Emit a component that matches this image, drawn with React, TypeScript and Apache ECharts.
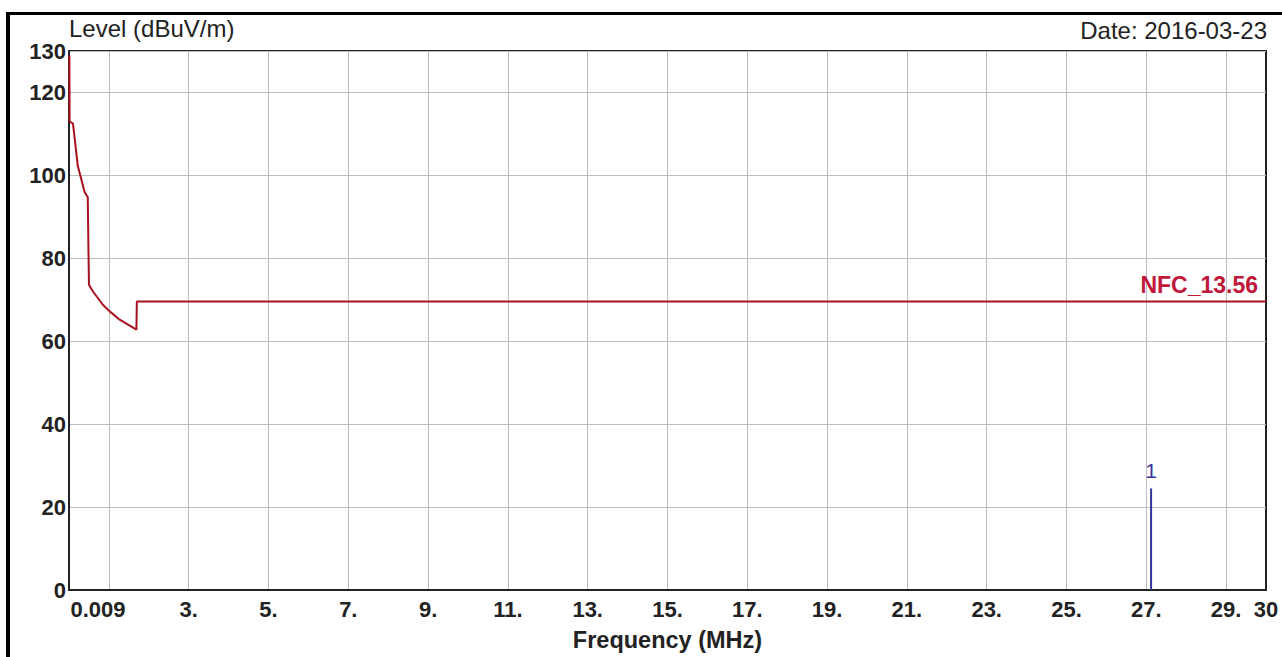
import React, { useEffect, useRef } from 'react';
import * as echarts from 'echarts';

// ---- data ----
const LIMIT_FREQ_MHZ = [0.009, 0.015, 0.1, 0.22, 0.39, 0.47, 0.5, 0.6, 0.85, 1.02, 1.27, 1.69, 1.7, 30];
const LIMIT_LEVEL_DBUV = [129, 113, 112.5, 102.3, 96, 94.7, 73.6, 72.0, 68.8, 67.2, 65.2, 62.8, 69.6, 69.6];
const LIMIT_NAME = 'NFC_13.56';

const MARKER_FREQ_MHZ = [27.12];
const MARKER_LEVEL_DBUV = [24.5];
const MARKER_LABELS = ['1'];

const X_MIN = 0;
const X_MAX = 30;
const X_STEP = 1;
const X_FIRST_LABEL = '0.009';
const X_LAST_LABEL = '30';
const Y_MIN = 0;
const Y_MAX = 130;
const Y_STEP = 20;

const Y_TITLE = 'Level (dBuV/m)';
const X_TITLE = 'Frequency (MHz)';
const DATE_TEXT = 'Date: 2016-03-23';

const FONT = '"Liberation Sans", Arial, sans-serif';
const TEXT_COLOR = '#222222';
const GRID_COLOR = '#bdbdbd';
const LIMIT_COLOR = '#a8101e';
const LIMIT_LABEL_COLOR = '#c0183a';
const MARKER_COLOR = '#34349c';

export default function App() {
  const ref = useRef<HTMLDivElement>(null);

  useEffect(() => {
    if (!ref.current) return;
    const chart = echarts.init(ref.current, undefined, { renderer: 'svg' });

    const limitData = LIMIT_FREQ_MHZ.map((f, i) => [f, LIMIT_LEVEL_DBUV[i]]);
    const lastIdx = LIMIT_FREQ_MHZ.length - 1;

    const markerSeries = MARKER_FREQ_MHZ.map((f, i) => ({
      type: 'line',
      data: [
        [f, Y_MIN],
        [f, MARKER_LEVEL_DBUV[i]],
      ],
      showSymbol: false,
      lineStyle: { color: MARKER_COLOR, width: 2 },
      silent: true,
      z: 4,
      markPoint: {
        silent: true,
        symbol: 'circle',
        symbolSize: 0,
        data: [
          {
            coord: [f, MARKER_LEVEL_DBUV[i]],
            label: {
              show: true,
              position: 'top',
              distance: 7,
              formatter: MARKER_LABELS[i],
              color: MARKER_COLOR,
              fontFamily: FONT,
              fontSize: 21,
            },
          },
        ],
      },
    }));

    const option: any = {
      animation: false,
      backgroundColor: '#ffffff',
      title: {
        text: DATE_TEXT,
        right: 15,
        top: 18,
        padding: 0,
        textStyle: { fontFamily: FONT, fontSize: 24, fontWeight: 'normal', color: TEXT_COLOR },
      },
      graphic: [
        { type: 'rect', left: 6, top: 12, shape: { width: 1276, height: 3 }, style: { fill: '#000' } },
        { type: 'rect', left: 6, top: 12, shape: { width: 4, height: 645 }, style: { fill: '#000' } },
      ],
      grid: {
        left: 69,
        top: 51,
        right: 16,
        bottom: 63,
        show: true,
        borderColor: '#222',
        borderWidth: 2,
        backgroundColor: 'transparent',
        containLabel: false,
      },
      xAxis: {
        type: 'value',
        min: X_MIN,
        max: X_MAX,
        interval: X_STEP,
        name: X_TITLE,
        nameLocation: 'middle',
        nameGap: 38,
        nameTextStyle: { fontFamily: FONT, fontSize: 23.5, fontWeight: 'bold', color: TEXT_COLOR },
        axisLine: { show: true, lineStyle: { color: '#222', width: 2 } },
        axisTick: { show: false },
        splitLine: {
          show: true,
          lineStyle: { color: ['rgba(0,0,0,0)', GRID_COLOR], width: 1 },
        },
        axisLabel: {
          show: true,
          margin: 8,
          showMinLabel: true,
          showMaxLabel: true,
          fontFamily: FONT,
          fontSize: 22,
          fontWeight: 'bold',
          color: TEXT_COLOR,
          formatter: (v: number) => {
            if (v === X_MIN) return '{first|' + X_FIRST_LABEL + '}';
            if (v === X_MAX) return X_LAST_LABEL;
            if (v >= 3 && v % 2 === 1) return v + '.';
            return '';
          },
          rich: {
            first: {
              fontFamily: FONT,
              fontSize: 22,
              fontWeight: 'bold',
              color: TEXT_COLOR,
              padding: [0, 0, 0, 58],
            },
          },
        },
      },
      yAxis: {
        type: 'value',
        min: Y_MIN,
        max: Y_MAX,
        interval: Y_STEP,
        name: Y_TITLE,
        nameLocation: 'end',
        nameGap: 3,
        nameTextStyle: {
          fontFamily: FONT,
          fontSize: 24,
          fontWeight: 'normal',
          color: TEXT_COLOR,
          align: 'left',
          verticalAlign: 'bottom',
        },
        axisLine: { show: true, lineStyle: { color: '#222', width: 2 } },
        axisTick: { show: false },
        splitLine: { show: true, lineStyle: { color: GRID_COLOR, width: 1 } },
        axisLabel: {
          show: true,
          margin: 3,
          showMinLabel: true,
          showMaxLabel: true,
          fontFamily: FONT,
          fontSize: 22,
          fontWeight: 'bold',
          color: TEXT_COLOR,
        },
      },
      series: [
        {
          type: 'line',
          name: LIMIT_NAME,
          data: limitData,
          showSymbol: false,
          lineStyle: { color: LIMIT_COLOR, width: 2 },
          silent: true,
          z: 3,
          markPoint: {
            silent: true,
            symbol: 'circle',
            symbolSize: 0,
            data: [
              {
                coord: limitData[lastIdx],
                label: {
                  show: true,
                  position: 'left',
                  distance: 8,
                  offset: [0, -16],
                  formatter: LIMIT_NAME,
                  color: LIMIT_LABEL_COLOR,
                  fontFamily: FONT,
                  fontSize: 23,
                  fontWeight: 'bold',
                },
              },
            ],
          },
        },
        ...markerSeries,
      ],
    };

    chart.setOption(option);
    return () => chart.dispose();
  }, []);

  return (
    <div
      ref={ref}
      style={{ position: 'fixed', left: 0, top: 0, width: 1282, height: 657, background: '#fff' }}
    />
  );
}
